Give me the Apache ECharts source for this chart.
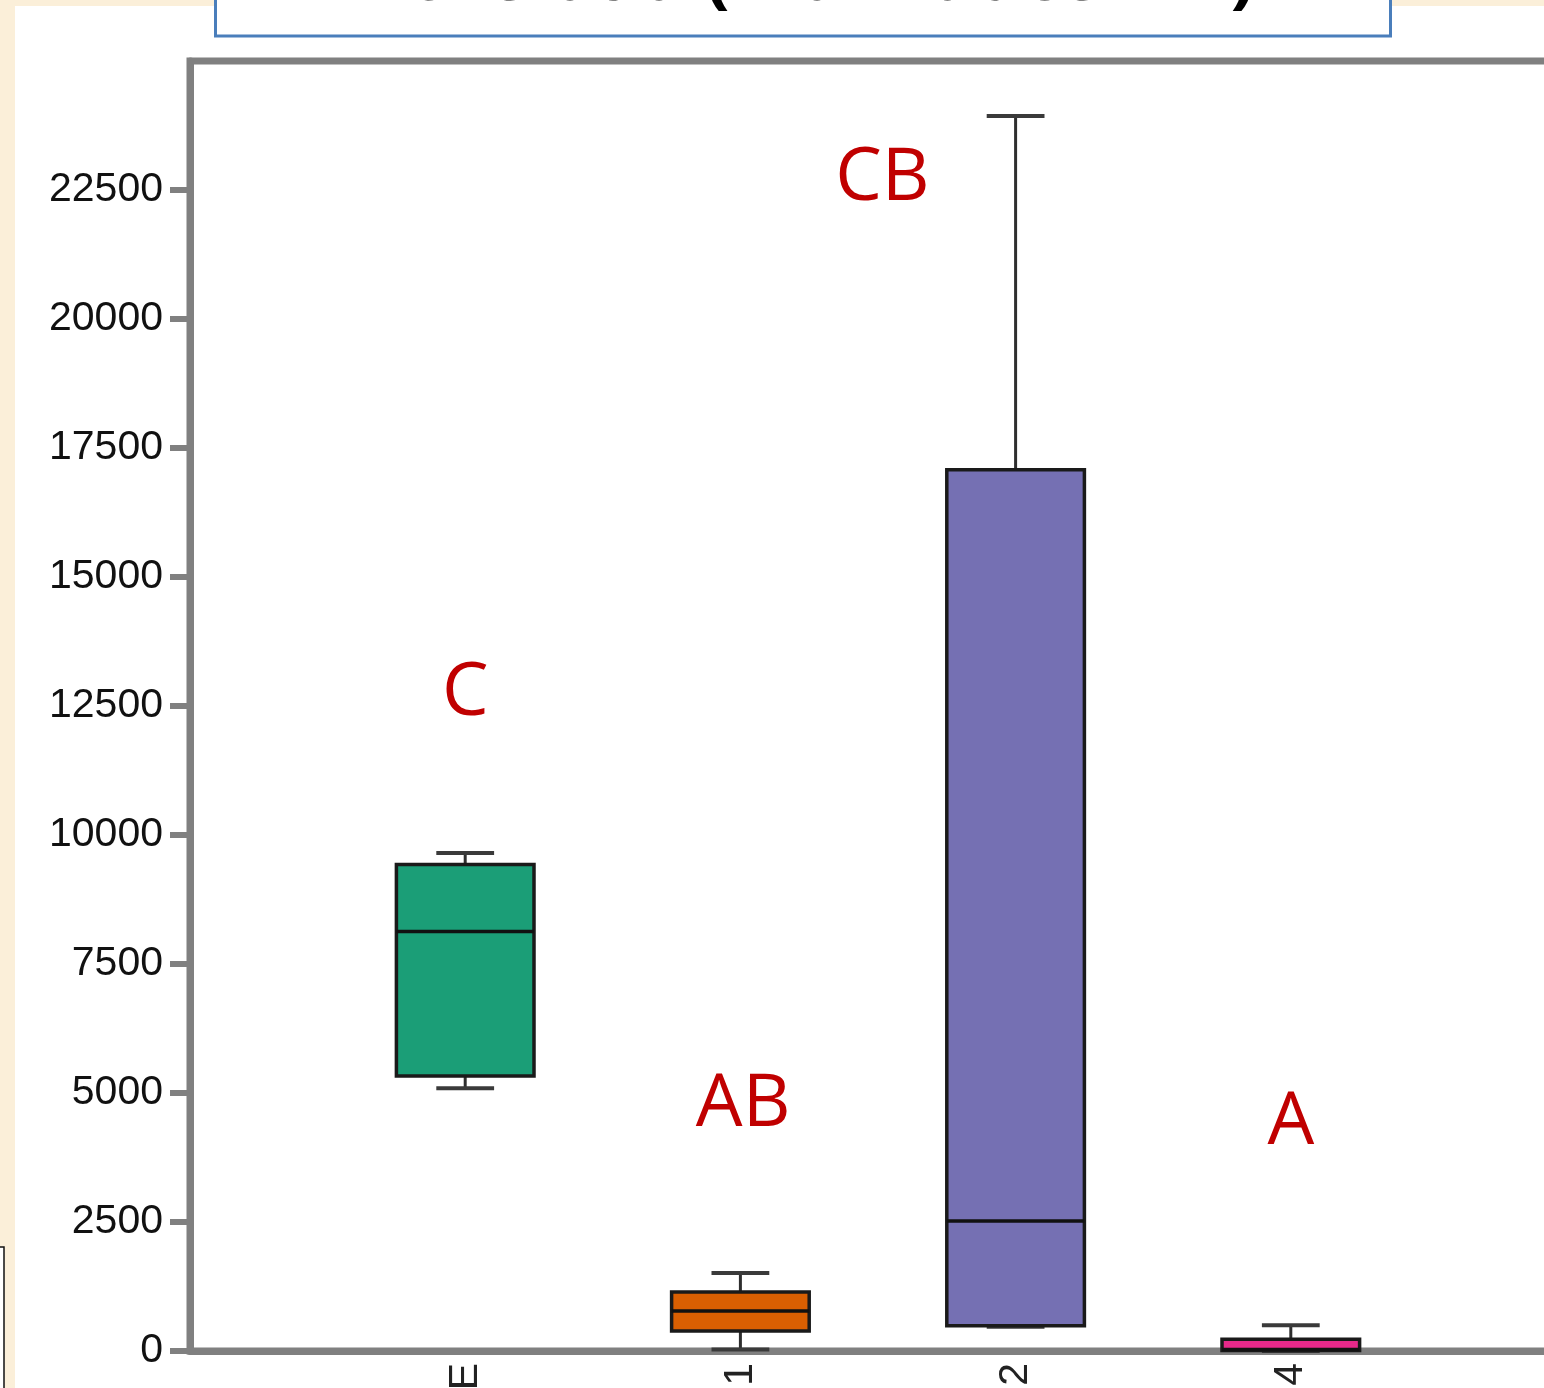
<!DOCTYPE html>
<html>
<head>
<meta charset="utf-8">
<script src="https://cdn.jsdelivr.net/npm/echarts@6/dist/echarts.min.js"></script>
<style>
html,body{margin:0;padding:0;overflow:hidden;background:#fbefd9;}
#chart{width:1600px;height:1388px;}
</style>
</head>
<body>
<div id="chart"></div>
<script>
// ---- data ----
const categories = ['E', '1', '2', '4'];
const categoryPos = [1, 2, 3, 4];
const boxMin    = [5090,  30,  470,   0];
const boxQ1     = [5330, 390,  490,  10];
const boxMedian = [8130, 775, 2520,  30];
const boxQ3     = [9430, 1145, 17080, 230];
const boxMax    = [9650, 1510, 23935, 500];
const boxColors = ['#1b9e77', '#d95f02', '#7570b3', '#e7298a'];
const letterText = ['C', 'AB', 'CB', 'A'];
const letterX    = [1, 2.01, 2.516, 4];
const letterY    = [12740, 4760, 22710, 4415];
const yTicks = [0, 2500, 5000, 7500, 10000, 12500, 15000, 17500, 20000, 22500];
const titleText = 'Densidad (individuos/m²)';

const boxData = categoryPos.map((x, i) => [x, boxMin[i], boxQ1[i], boxMedian[i], boxQ3[i], boxMax[i], i]);
const letterData = letterX.map((x, i) => [x, letterY[i], letterText[i]]);

const chart = echarts.init(document.getElementById('chart'));

function renderBox(params, api) {
  const x = api.value(0);
  const idx = api.value(6);
  const pMin = api.coord([x, api.value(1)]);
  const pQ1 = api.coord([x, api.value(2)]);
  const pMed = api.coord([x, api.value(3)]);
  const pQ3 = api.coord([x, api.value(4)]);
  const pMax = api.coord([x, api.value(5)]);
  const bw = api.size([0.5, 0])[0];
  const cw = api.size([0.21, 0])[0];
  const cx = pMed[0];
  const whisker = {stroke: '#2e2e2e', lineWidth: 3};
  const cap = {stroke: '#3a3a3a', lineWidth: 4};
  return {
    type: 'group',
    children: [
      {type: 'line', shape: {x1: cx, y1: pMax[1], x2: cx, y2: pQ3[1]}, style: whisker},
      {type: 'line', shape: {x1: cx, y1: pQ1[1], x2: cx, y2: pMin[1]}, style: whisker},
      {type: 'line', shape: {x1: cx - cw / 2, y1: pMax[1], x2: cx + cw / 2, y2: pMax[1]}, style: cap},
      {type: 'line', shape: {x1: cx - cw / 2, y1: pMin[1], x2: cx + cw / 2, y2: pMin[1]}, style: cap},
      {type: 'rect', shape: {x: cx - bw / 2, y: pQ3[1], width: bw, height: pQ1[1] - pQ3[1]},
        style: {fill: boxColors[idx], stroke: '#1a1a1a', lineWidth: 3.5}},
      {type: 'line', shape: {x1: cx - bw / 2, y1: pMed[1], x2: cx + bw / 2, y2: pMed[1]},
        style: {stroke: '#111', lineWidth: 3.5}}
    ]
  };
}

const option = {
  backgroundColor: '#fbefd9',
  animation: false,
  graphic: [
    {type: 'rect', z: -10, shape: {x: 15, y: 6, width: 1700, height: 1500}, style: {fill: '#ffffff'}},
    {type: 'rect', z: -5, shape: {x: -20, y: 1247, width: 24, height: 200}, style: {fill: '#ffffff', stroke: '#111', lineWidth: 1.5}},
    {type: 'rect', z: 10, shape: {x: 215.5, y: -20, width: 1175, height: 56}, style: {fill: '#ffffff', stroke: '#4a7ebb', lineWidth: 3}},
    {type: 'text', z: 11, x: 803, y: -21, style: {text: titleText, fill: '#000', font: 'bold 72px "Open Sans"', align: 'center', verticalAlign: 'middle'}}
  ],
  grid: {left: 190, top: 61, width: 1376, bottom: 37, outerBoundsMode: 'none', containLabel: false,
    show: true, borderColor: '#808080', borderWidth: 7, backgroundColor: '#ffffff'},
  xAxis: {
    type: 'value', min: 0, max: 5, interval: 1,
    splitLine: {show: false},
    axisLine: {show: true, onZero: false, lineStyle: {color: '#808080', width: 7}},
    axisTick: {show: false},
    axisLabel: {
      customValues: categoryPos,
      rotate: 90, margin: 12,
      formatter: v => categories[categoryPos.indexOf(v)] || '',
      color: '#222', fontFamily: 'Liberation Sans', fontSize: 41
    }
  },
  yAxis: {
    type: 'value', min: 0, max: 25000, interval: 2500,
    splitLine: {show: false},
    axisLine: {show: true, lineStyle: {color: '#808080', width: 7}},
    axisTick: {show: true, customValues: yTicks, length: 20, lineStyle: {color: '#808080', width: 6}},
    axisLabel: {customValues: yTicks, margin: 27, color: '#111', fontFamily: 'Liberation Sans', fontSize: 41,
      formatter: v => String(v)}
  },
  series: [
    {type: 'custom', renderItem: renderBox, data: boxData, encode: {x: 0, y: [1, 2, 3, 4, 5]}, clip: false},
    {type: 'scatter', symbolSize: 0, data: letterData, silent: true, itemStyle: {opacity: 1},
      label: {show: true, position: 'inside', formatter: p => p.value[2], color: '#c00000', opacity: 1,
        fontFamily: 'Open Sans', fontSize: 74}}
  ]
};
chart.setOption(option);
</script>
</body>
</html>
